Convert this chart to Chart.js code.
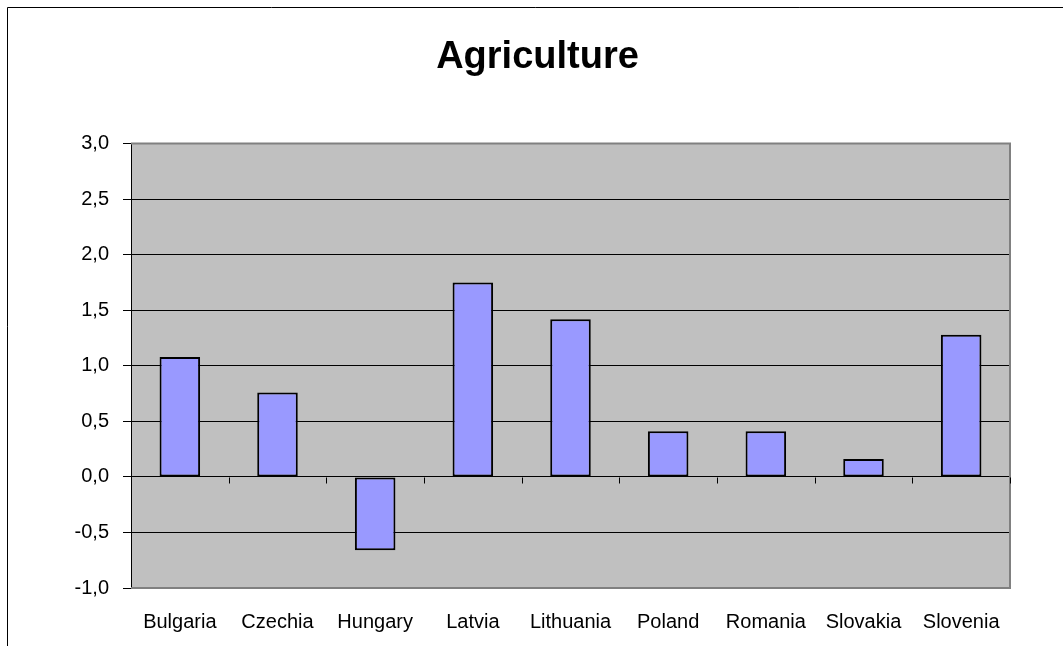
<!DOCTYPE html>
<html>
<head>
<meta charset="utf-8">
<script src="https://cdn.jsdelivr.net/npm/chart.js@4.4.0/dist/chart.umd.min.js"></script>
<style>
  html, body { margin: 0; padding: 0; background: #fff; }
  #wrap { width: 1063px; height: 646px; position: relative; }
</style>
</head>
<body>
<div id="wrap"><canvas id="myChart"></canvas></div>
<script>
const countries = ["Bulgaria", "Czechia", "Hungary", "Latvia", "Lithuania", "Poland", "Romania", "Slovakia", "Slovenia"];
const values = [1.08, 0.76, -0.66, 1.75, 1.42, 0.41, 0.41, 0.16, 1.28];
const yMin = -1.0;
const yMax = 3.0;
const yStep = 0.5;

const FONT = "'Liberation Sans', Arial, sans-serif";

// grey plot background, outer frame, plot border and category ticks on the zero line
const excelLook = {
    id: 'excelLook',
    beforeDraw(chart) {
        const c = chart.ctx;
        const a = chart.chartArea;
        c.save();
        c.fillStyle = '#fff';
        c.fillRect(0, 0, chart.width, chart.height);
        c.strokeStyle = '#000';
        c.lineWidth = 1;
        c.beginPath();
        c.moveTo(7.5, chart.height);
        c.lineTo(7.5, 7.5);
        c.lineTo(chart.width, 7.5);
        c.stroke();
        c.fillStyle = '#c0c0c0';
        c.fillRect(a.left, a.top, a.right - a.left, a.bottom - a.top);
        c.restore();
    },
    beforeDatasetsDraw(chart) {
        const c = chart.ctx;
        const a = chart.chartArea;
        const y0 = Math.round(chart.scales.y.getPixelForValue(0)) + 0.5;
        const step = (a.right - a.left) / countries.length;
        c.save();
        c.strokeStyle = '#808080';
        c.lineWidth = 2;
        c.beginPath();
        c.moveTo(a.left, a.top);
        c.lineTo(a.right, a.top);
        c.lineTo(a.right, a.bottom);
        c.lineTo(a.left, a.bottom);
        c.stroke();
        c.strokeStyle = '#000';
        c.lineWidth = 1;
        c.beginPath();
        for (let i = 0; i <= countries.length; i++) {
            const px = Math.round(a.left + i * step) + 0.5;
            c.moveTo(px, y0);
            c.lineTo(px, y0 + 6);
        }
        c.stroke();
        c.restore();
    }
};

new Chart(document.getElementById('myChart'), {
    type: 'bar',
    data: {
        labels: countries,
        datasets: [{
            label: 'Agriculture',
            data: values,
            backgroundColor: '#9999ff',
            borderColor: '#000',
            borderWidth: 2,
            borderSkipped: false,
            barPercentage: 0.415,
            categoryPercentage: 1.0
        }]
    },
    options: {
        responsive: true,
        maintainAspectRatio: false,
        animation: false,
        layout: { padding: { left: 65, right: 53, top: 10, bottom: 0 } },
        plugins: {
            legend: { display: false },
            tooltip: { enabled: false },
            title: {
                display: true,
                text: 'Agriculture',
                color: '#000',
                font: { family: FONT, size: 38, weight: 'bold' },
                padding: { top: 25, bottom: 63 }
            }
        },
        scales: {
            x: {
                grid: { display: false },
                border: { display: false },
                ticks: {
                    color: '#000',
                    font: { family: FONT, size: 20 },
                    padding: 14,
                    maxRotation: 0,
                    autoSkip: false
                },
                afterFit(scale) { scale.height = 58; }
            },
            y: {
                min: yMin,
                max: yMax,
                border: { display: true, color: '#000', width: 1 },
                grid: {
                    color: (ctx) => (ctx.tick && (ctx.tick.value === yMax || ctx.tick.value === yMin)) ? 'rgba(0,0,0,0)' : '#000',
                    tickColor: '#000',
                    tickLength: 8,
                    lineWidth: 1
                },
                ticks: {
                    stepSize: yStep,
                    color: '#000',
                    font: { family: FONT, size: 20 },
                    padding: 14,
                    callback: (v) => Number(v).toFixed(1).replace('.', ',')
                },
                afterFit(scale) { scale.width = 66; }
            }
        }
    },
    plugins: [excelLook]
});
</script>
</body>
</html>
